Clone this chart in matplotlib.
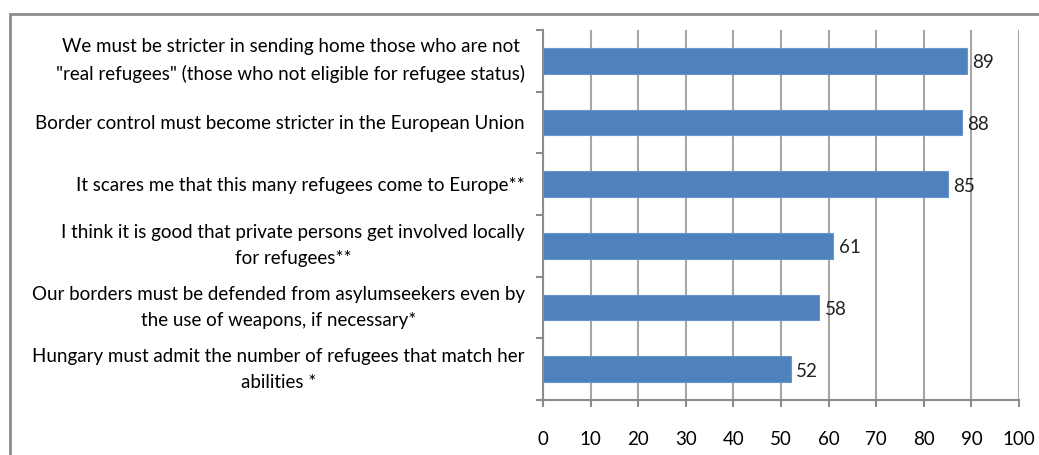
import matplotlib.pyplot as plt
from matplotlib.patches import Rectangle
import numpy as np

labels = [
    'We must be stricter in sending home those who are not\n"real refugees" (those who not eligible for refugee status)',
    'Border control must become stricter in the European Union',
    'It scares me that this many refugees come to Europe**',
    'I think it is good that private persons get involved locally\nfor refugees**',
    'Our borders must be defended from asylumseekers even by\nthe use of weapons, if necessary*',
    'Hungary must admit the number of refugees that match her\nabilities *',
]
values = [89, 88, 85, 61, 58, 52]
xticks = list(range(0, 101, 10))

plt.rcParams['font.family'] = ['Lato', 'DejaVu Sans']
fs = 13.5

fig = plt.figure(figsize=(10.39, 4.55), dpi=100)
ax = fig.add_axes([543 / 1039, 1 - 400 / 455, (1019 - 543) / 1039, 370 / 455])

# outer frame
fig.patches.append(Rectangle((10 / 1039, 1 - 1500 / 455), 2000 / 1039, (1500 - 14) / 455,
                             transform=fig.transFigure, fill=False,
                             edgecolor='#8c8c8c', linewidth=2))

n = len(labels)
pos = np.arange(n)[::-1] + 0.5
ax.barh(pos, values, height=0.42, color='#4f81bd', edgecolor='#6a95c9', linewidth=0.8, zorder=3)
for p, v in zip(pos, values):
    ax.text(v + 1.2, p - 0.03, str(v), va='center', ha='left', fontsize=fs, color='#222222', zorder=4)

ax.set_xlim(0, 100)
ax.set_ylim(0, n)
ax.set_xticks(xticks)
ax.set_xticklabels([str(t) for t in xticks], fontsize=fs)
ax.set_yticks(np.arange(n + 1))
ax.set_yticklabels([])
ax.set_yticks(pos, minor=True)
ax.set_yticklabels(labels, minor=True, fontsize=fs)
for t in ax.get_yticklabels(minor=True):
    t.set_multialignment('center')
    t.set_linespacing(1.65)
    if '\n' in t.get_text():
        t.set_verticalalignment('center')
ax.tick_params(axis='y', which='minor', length=0, pad=13)
ax.tick_params(axis='y', which='major', length=5, color='#8c8c8c', width=1.5)
ax.tick_params(axis='x', length=5, color='#8c8c8c', width=1.5, pad=17)

ax.grid(axis='x', color='#a6a6a6', linewidth=1.5, zorder=0)
ax.set_axisbelow(True)
for s in ['top', 'right']:
    ax.spines[s].set_visible(False)
for s in ['left', 'bottom']:
    ax.spines[s].set_color('#8c8c8c')
    ax.spines[s].set_linewidth(1.5)

fig.savefig('out.png', dpi=100)
